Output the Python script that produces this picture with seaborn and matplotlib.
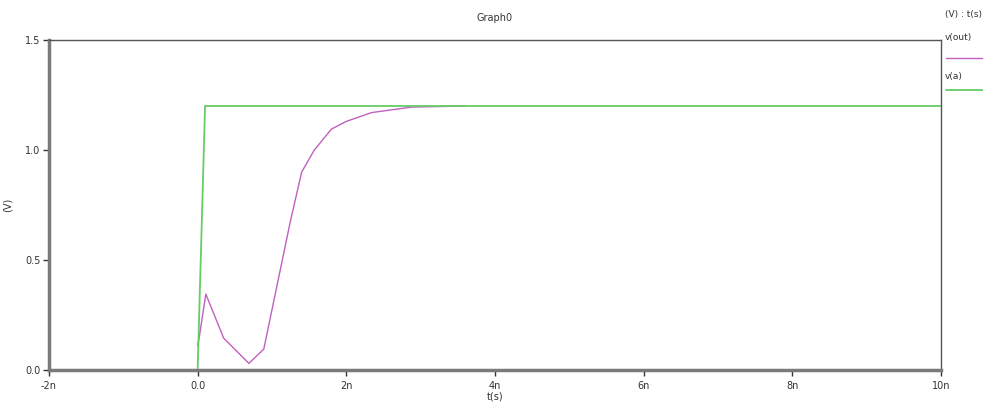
import pandas as pd
import seaborn as sns
import matplotlib.pyplot as plt
from matplotlib.lines import Line2D
from matplotlib.ticker import FuncFormatter

# transient sim results, time in ns, voltage in V
t_out = [0.0, 0.02, 0.11, 0.35, 0.69, 0.89, 1.25, 1.40, 1.57, 1.80, 2.0, 2.34, 2.88, 3.6]
v_out = [0.11, 0.145, 0.345, 0.145, 0.03, 0.095, 0.68, 0.90, 1.0, 1.095, 1.13, 1.17, 1.195, 1.2]
t_a = [0.0, 0.1, 10.0]
v_a = [0.0, 1.2, 1.2]

x_ticks = [-2, 0, 2, 4, 6, 8, 10]
y_ticks = [0.0, 0.5, 1.0, 1.5]

df_out = pd.DataFrame({'t': t_out, 'v': v_out})
df_a = pd.DataFrame({'t': t_a, 'v': v_a})

sns.set_style('white')
plt.rcParams['font.family'] = ['DejaVu Sans']

fig = plt.figure(figsize=(9.83, 4.11), dpi=100)
ax = fig.add_axes([0.0498, 0.0998, 0.9075, 0.8029])

purple = '#c060c0'
green = '#66cc66'
sns.lineplot(data=df_out, x='t', y='v', ax=ax, color=purple, lw=1, sort=False)
sns.lineplot(data=df_a, x='t', y='v', ax=ax, color=green, lw=1.3, sort=False)

ax.set_xlim(-2, 10)
ax.set_ylim(0, 1.5)
ax.set_xticks(x_ticks)
ax.set_yticks(y_ticks)
ax.xaxis.set_major_formatter(FuncFormatter(lambda v, p: '0.0' if v == 0 else f'{int(v)}n'))
ax.yaxis.set_major_formatter(FuncFormatter(lambda v, p: f'{v:.1f}'))
ax.tick_params(axis='both', labelsize=7, length=4, width=1, color='#333333',
               direction='out', bottom=True, left=True, pad=2, labelcolor='#333333')
ax.tick_params(axis='x', pad=4)

for s in ['left', 'bottom']:
    ax.spines[s].set_linewidth(2.5)
    ax.spines[s].set_color('#7a7a7a')
for s in ['top', 'right']:
    ax.spines[s].set_linewidth(1)
    ax.spines[s].set_color('#555555')

ax.set_xlabel('t(s)', fontsize=7, labelpad=0, color='#333333')
ax.set_ylabel('(V)', fontsize=7, color='#333333')
ax.yaxis.set_label_coords(-0.041, 0.5)
ax.set_title('Graph0', fontsize=7, pad=14, color='#333333')

# legend on the right, outside the frame
fig.text(0.961, 0.965, '(V) : t(s)', fontsize=6.5, va='center', color='#333333')
fig.text(0.961, 0.908, 'v(out)', fontsize=6.5, va='center', color='#333333')
fig.add_artist(Line2D([0.962, 1.0], [0.859, 0.859], color=purple, lw=1))
fig.text(0.961, 0.813, 'v(a)', fontsize=6.5, va='center', color='#333333')
fig.add_artist(Line2D([0.962, 1.0], [0.781, 0.781], color=green, lw=1.3))

fig.savefig('out.png', dpi=100)
